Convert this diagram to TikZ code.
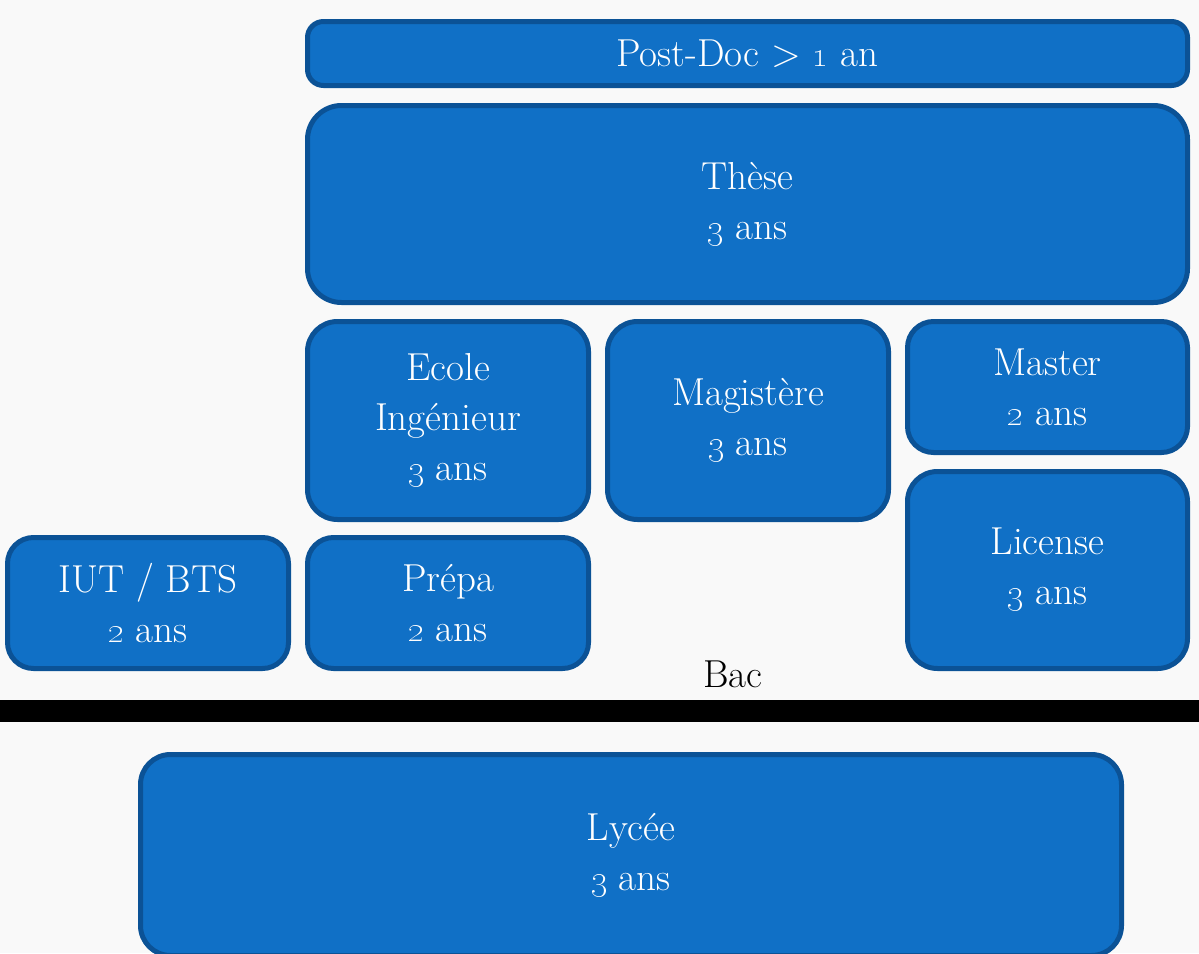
\documentclass[tikz,border=0pt]{standalone}
\definecolor{boxfill}{HTML}{1070C6}
\definecolor{boxline}{HTML}{0B5296}
\definecolor{bgcol}{HTML}{F9F9F9}
\newcommand{\osn}[1]{\oldstylenums{#1}}
\begin{document}
\begin{tikzpicture}[x=1pt,y=-1pt,
  box/.style={draw=boxline, fill=boxfill, line width=5pt, text=white, align=center,
    font=\fontsize{39}{50}\selectfont, inner sep=0pt, rounded corners=#1},
  box/.default=30pt,
  plain/.style={text=black, font=\fontsize{39}{50}\selectfont, inner sep=0pt}]
\fill[bgcol] (0,0) rectangle (1199,953);
\useasboundingbox (0,0) rectangle (1199,953);
\clip (0,0) rectangle (1199,953);
\node[box=16pt, minimum width=880pt, minimum height=64pt] (postdoc) at (747.5,53.5) {Post-Doc > \osn{1} an};
\node[box=34pt, minimum width=880pt, minimum height=197pt] (these) at (747.5,204) {Thèse\\\osn{3} ans};
\node[box=30pt, minimum width=281pt, minimum height=198pt] (ecole) at (448,420.5) {Ecole\\Ingénieur\\\osn{3} ans};
\node[box=30pt, minimum width=281pt, minimum height=198pt] (magistere) at (748,420.5) {Magistère\\\osn{3} ans};
\node[box=26pt, minimum width=280pt, minimum height=131pt] (master) at (1047.5,387) {Master\\\osn{2} ans};
\node[box=30pt, minimum width=280pt, minimum height=197pt] (license) at (1047.5,570) {License\\\osn{3} ans};
\node[box=26pt, minimum width=281pt, minimum height=131pt] (iut) at (148,603) {IUT / BTS\\\osn{2} ans};
\node[box=26pt, minimum width=281pt, minimum height=131pt] (prepa) at (448,603) {Prépa\\\osn{2} ans};
\node[plain] (bac) at (733,674) {Bac};
\fill[black] (0,700) rectangle (1199,722);
\node[box=30pt, minimum width=981pt, minimum height=201pt] (lycee) at (631,855) {Lycée\\\osn{3} ans};
\end{tikzpicture}
\end{document}
